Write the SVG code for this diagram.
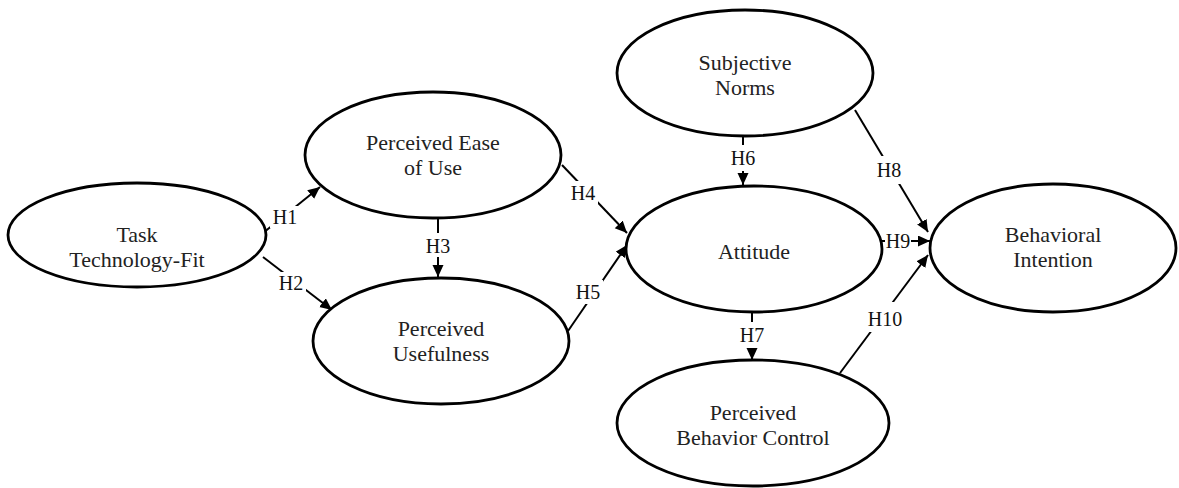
<svg xmlns="http://www.w3.org/2000/svg" width="1179" height="488" viewBox="0 0 1179 488">
<style>
.node ellipse{fill:#fff;stroke:#000;stroke-width:2.8}
.node text{font-family:"Liberation Serif","Times New Roman",Tinos,"DejaVu Serif",serif;font-size:22px;fill:#222;text-anchor:middle}
.conn line{stroke:#000;stroke-width:2}
.lbl rect{fill:#fff}
.lbl text{font-family:"Liberation Serif","Times New Roman",Tinos,"DejaVu Serif",serif;font-size:20px;fill:#111;text-anchor:middle}
</style>
<defs>
<marker id="arr" markerUnits="userSpaceOnUse" markerWidth="14" markerHeight="12" refX="12" refY="5.5" orient="auto">
<path d="M0,0 L12,5.5 L0,11 z" fill="#000"/>
</marker>
</defs>
<rect width="1179" height="488" fill="#fff"/>
<g id="connectors" class="conn">
<line x1="263" y1="233" x2="320" y2="187" marker-end="url(#arr)"/>
<line x1="263" y1="257" x2="332" y2="310" marker-end="url(#arr)"/>
<line x1="438" y1="218" x2="438" y2="277" marker-end="url(#arr)"/>
<line x1="562" y1="165" x2="627" y2="233" marker-end="url(#arr)"/>
<line x1="568" y1="331" x2="627" y2="245" marker-end="url(#arr)"/>
<line x1="743" y1="137" x2="743" y2="185" marker-end="url(#arr)"/>
<line x1="752" y1="312" x2="752" y2="360" marker-end="url(#arr)"/>
<line x1="855" y1="110" x2="928" y2="232" marker-end="url(#arr)"/>
<line x1="882" y1="241" x2="930" y2="241" marker-end="url(#arr)"/>
<line x1="840" y1="373" x2="928" y2="255" marker-end="url(#arr)"/>
<g class="lbl">
<rect x="270" y="206" width="30" height="22"/><text x="285" y="224">H1</text>
<rect x="276" y="272" width="30" height="22"/><text x="291" y="290">H2</text>
<rect x="423" y="233" width="30" height="24"/><text x="438" y="253">H3</text>
<rect x="568" y="181" width="30" height="24"/><text x="583" y="200">H4</text>
<rect x="573" y="280" width="30" height="24"/><text x="588" y="299">H5</text>
<rect x="728" y="145" width="30" height="26"/><text x="743" y="165">H6</text>
<rect x="737" y="322" width="30" height="26"/><text x="752" y="342">H7</text>
<rect x="873" y="156" width="32" height="28"/><text x="889" y="177">H8</text>
<rect x="885" y="230" width="26" height="22"/><text x="898" y="248">H9</text>
<rect x="865" y="302" width="40" height="30"/><text x="885" y="326">H10</text>
</g>
</g>
<g id="node-ttf" class="node">
<ellipse cx="137" cy="235" rx="129" ry="52"/>
<text x="137" y="242">Task</text>
<text x="137" y="267">Technology-Fit</text>
</g>
<g id="node-peou" class="node">
<ellipse cx="433" cy="155" rx="128" ry="63"/>
<text x="433" y="150">Perceived Ease</text>
<text x="433" y="175">of Use</text>
</g>
<g id="node-pu" class="node">
<ellipse cx="441" cy="341" rx="128" ry="63"/>
<text x="441" y="336">Perceived</text>
<text x="441" y="361">Usefulness</text>
</g>
<g id="node-sn" class="node">
<ellipse cx="745" cy="73" rx="128" ry="63"/>
<text x="745" y="70">Subjective</text>
<text x="745" y="95">Norms</text>
</g>
<g id="node-att" class="node">
<ellipse cx="754" cy="249" rx="128" ry="63"/>
<text x="754" y="259">Attitude</text>
</g>
<g id="node-pbc" class="node">
<ellipse cx="753" cy="423" rx="136" ry="63"/>
<text x="753" y="420">Perceived</text>
<text x="753" y="445">Behavior Control</text>
</g>
<g id="node-bi" class="node">
<ellipse cx="1053" cy="248" rx="123" ry="64"/>
<text x="1053" y="242">Behavioral</text>
<text x="1053" y="267">Intention</text>
</g>
</svg>
